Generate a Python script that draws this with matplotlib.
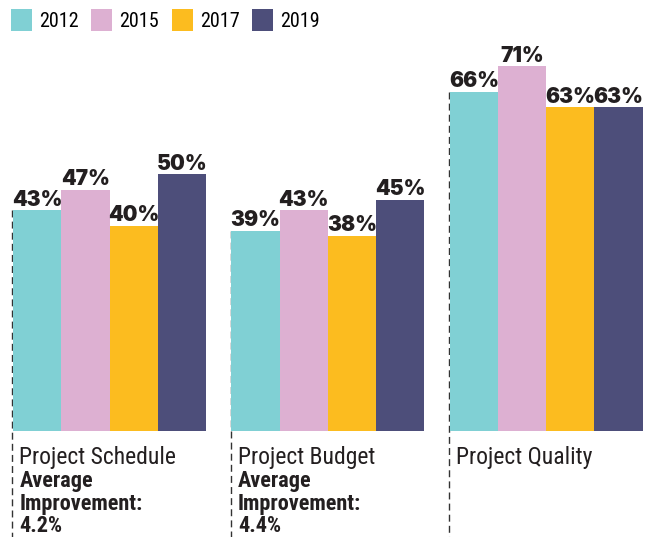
import matplotlib
matplotlib.use("Agg")
import matplotlib.pyplot as plt
from matplotlib import font_manager
from matplotlib.patches import Patch

years = ["2012", "2015", "2017", "2019"]
categories = ["Project Schedule", "Project Budget", "Project Quality"]
values = {
    "2012": [43, 39, 66],
    "2015": [47, 43, 71],
    "2017": [40, 38, 63],
    "2019": [50, 45, 63],
}
improvements = ["4.2%", "4.4%", None]

colors = ["#80d0d4", "#ddb0d2", "#fcbc1f", "#4d4e7a"]
text_color = "#231f20"


def first_installed(names):
    installed = {f.name for f in font_manager.fontManager.ttflist}
    for name in names:
        if name in installed:
            return name
    return "DejaVu Sans"


narrow = [first_installed(["Liberation Sans Narrow", "Roboto Condensed",
                           "DejaVu Sans Condensed", "Roboto"]), "DejaVu Sans"]
heavy = [first_installed(["Inter", "Lato", "Open Sans"]), "DejaVu Sans"]

fig = plt.figure(figsize=(6.51, 5.37), dpi=100)
ax = fig.add_axes([0, 0, 1, 1])
ax.set_xlim(-0.5016, 2.48)
ax.set_ylim(-20.6, 83.9)
ax.axis("off")

w = 0.2208
# baselines of the text lines under each group (in value units)
line_y = [-6.3, -10.9, -15.4, -19.6]
for i, cat in enumerate(categories):
    left = i - 2 * w
    top = values["2012"][i]
    ax.plot([left - 0.004, left - 0.004], [top, -20.6], ls=(0, (5, 3)),
            color="#333333", lw=1.0, zorder=1)
    for j, y in enumerate(years):
        x = left + w * (j + 0.5)
        v = values[y][i]
        ax.bar(x, v, width=w, color=colors[j], zorder=2)
        ax.text(x, v + 0.9, f"{v}%", ha="center", va="baseline",
                fontsize=15, fontweight="black", color=text_color,
                family=heavy, zorder=3)
    tx = left + 0.029
    ax.text(tx, line_y[0], cat, ha="left", va="baseline", fontsize=17,
            family=narrow, color=text_color)
    if improvements[i]:
        extra = ["Average", "Improvement:", improvements[i]]
        for k, s in enumerate(extra):
            ax.text(tx, line_y[k + 1], s, ha="left", va="baseline",
                    fontsize=16, fontweight="bold", family=narrow,
                    color=text_color)

handles = [Patch(facecolor=c, edgecolor="none") for c in colors]
fig.legend(handles, years, loc="upper left", bbox_to_anchor=(11 / 651, 1 - 9 / 537),
           ncol=4, frameon=False, borderpad=0, borderaxespad=0,
           handlelength=1.05, handleheight=1.3,
           handletextpad=0.35, columnspacing=0.62,
           prop={"family": narrow, "size": 14.5})

fig.savefig("out.png", dpi=100)
